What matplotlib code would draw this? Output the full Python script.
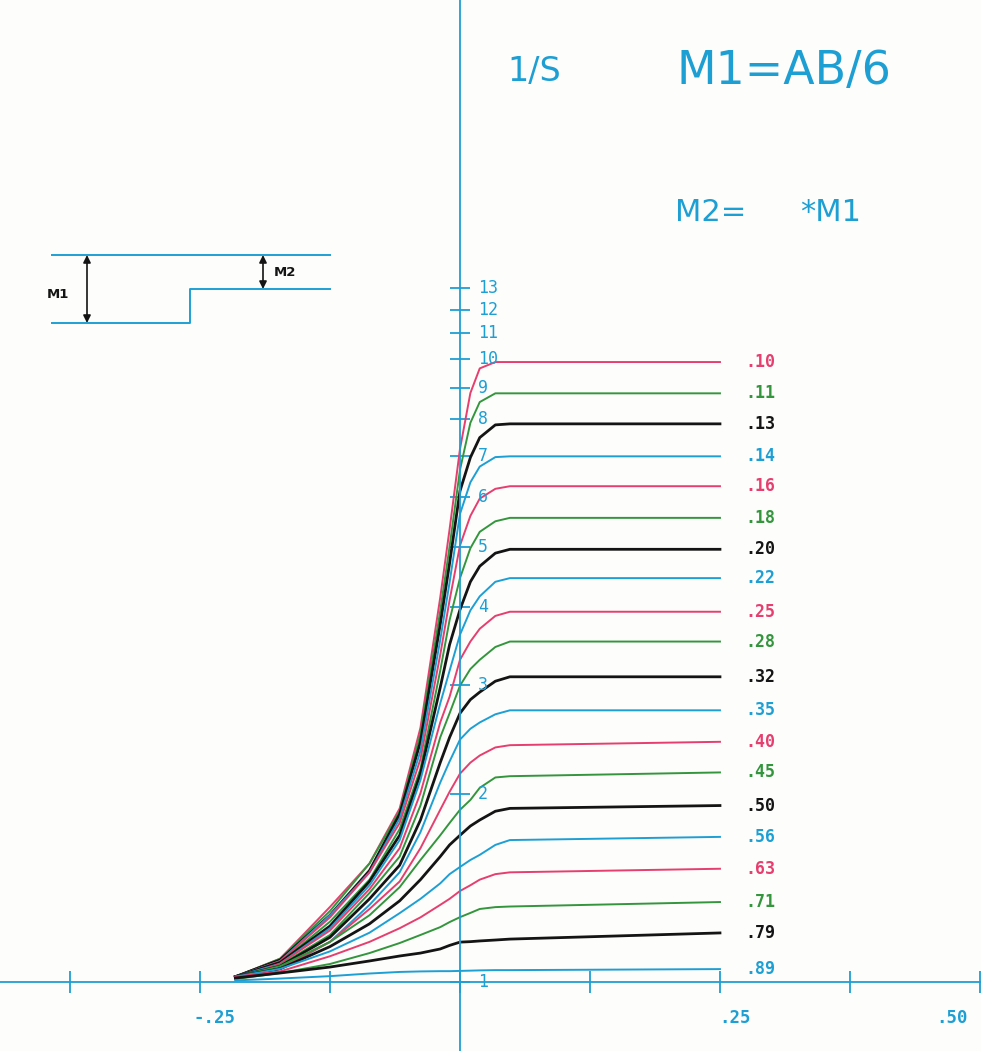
import matplotlib.pyplot as plt
from matplotlib.ticker import NullLocator, FixedLocator

# x positions where the curves were read (same for every curve)
x_grid = [-0.216, -0.173, -0.125, -0.087, -0.058, -0.038, -0.019, -0.010,
          0.0, 0.010, 0.019, 0.034, 0.048, 0.25]

# 1/S values, one list per M2/M1 ratio
s10 = [1.02, 1.09, 1.32, 1.55, 1.90, 2.56, 4.14, 5.33, 7.17, 8.82, 9.66, 9.89, 9.89, 9.89]
s11 = [1.02, 1.09, 1.30, 1.55, 1.88, 2.50, 3.94, 5.00, 6.64, 7.90, 8.53, 8.81, 8.81, 8.81]
s13 = [1.02, 1.085, 1.28, 1.51, 1.86, 2.43, 3.75, 4.70, 6.14, 6.95, 7.48, 7.84, 7.87, 7.87]
s14 = [1.02, 1.08, 1.28, 1.50, 1.83, 2.35, 3.54, 4.38, 5.64, 6.34, 6.72, 6.96, 6.98, 6.98]
s16 = [1.02, 1.08, 1.27, 1.50, 1.80, 2.28, 3.35, 4.10, 5.02, 5.60, 5.97, 6.19, 6.25, 6.25]
s18 = [1.02, 1.075, 1.25, 1.46, 1.76, 2.20, 3.16, 3.81, 4.45, 4.97, 5.28, 5.49, 5.56, 5.56]
s20 = [1.02, 1.075, 1.23, 1.45, 1.72, 2.16, 2.97, 3.48, 3.96, 4.39, 4.65, 4.88, 4.95, 4.95]
s22 = [1.02, 1.07, 1.22, 1.43, 1.69, 2.11, 2.80, 3.16, 3.61, 3.95, 4.16, 4.39, 4.45, 4.45]
s25 = [1.01, 1.07, 1.21, 1.41, 1.64, 2.01, 2.61, 2.87, 3.29, 3.52, 3.69, 3.87, 3.93, 3.93]
s28 = [1.01, 1.065, 1.19, 1.39, 1.59, 1.92, 2.47, 2.70, 2.99, 3.18, 3.29, 3.45, 3.52, 3.52]
s32 = [1.02, 1.06, 1.18, 1.36, 1.54, 1.82, 2.25, 2.47, 2.70, 2.84, 2.92, 3.04, 3.09, 3.09]
s35 = [1.02, 1.05, 1.16, 1.33, 1.50, 1.74, 2.09, 2.26, 2.45, 2.55, 2.61, 2.69, 2.73, 2.73]
s40 = [1.02, 1.05, 1.16, 1.31, 1.45, 1.64, 1.89, 2.02, 2.16, 2.25, 2.31, 2.38, 2.40, 2.43]
s45 = [1.02, 1.06, 1.16, 1.28, 1.42, 1.57, 1.72, 1.80, 1.89, 1.96, 2.05, 2.13, 2.14, 2.17]
s50 = [1.02, 1.05, 1.14, 1.24, 1.35, 1.46, 1.59, 1.66, 1.72, 1.78, 1.82, 1.88, 1.90, 1.92]
s56 = [1.02, 1.05, 1.12, 1.20, 1.29, 1.36, 1.44, 1.49, 1.53, 1.57, 1.60, 1.66, 1.69, 1.71]
s63 = [1.02, 1.04, 1.10, 1.16, 1.22, 1.27, 1.33, 1.36, 1.40, 1.43, 1.46, 1.49, 1.50, 1.52]
s71 = [1.011, 1.034, 1.069, 1.113, 1.155, 1.190, 1.225, 1.248, 1.271, 1.291, 1.310, 1.319, 1.322, 1.344]
s79 = [1.015, 1.034, 1.057, 1.081, 1.101, 1.113, 1.130, 1.145, 1.159, 1.161, 1.164, 1.168, 1.172, 1.199]
s89 = [1.006, 1.013, 1.022, 1.032, 1.038, 1.040, 1.041, 1.041, 1.042, 1.043, 1.044, 1.045, 1.045, 1.049]

series = [s10, s11, s13, s14, s16, s18, s20, s22, s25, s28,
          s32, s35, s40, s45, s50, s56, s63, s71, s79, s89]
ratio_labels = ['.10', '.11', '.13', '.14', '.16', '.18', '.20', '.22', '.25', '.28',
                '.32', '.35', '.40', '.45', '.50', '.56', '.63', '.71', '.79', '.89']

y_ticks = [1, 2, 3, 4, 5, 6, 7, 8, 9, 10, 11, 12, 13]
x_ticks = [-0.375, -0.25, -0.125, 0, 0.125, 0.25, 0.375, 0.5]
x_labels = {-0.25: '-.25', 0.25: '.25', 0.5: '.50'}

CYAN = '#1e9fd4'
PINK = '#e63e6f'
GREEN = '#33963d'
BLACK = '#141414'
pen_cycle = [PINK, GREEN, BLACK, CYAN]

fig = plt.figure(figsize=(9.81, 10.51), dpi=100)
fig.patch.set_facecolor('#fdfdfb')
ax = fig.add_axes([0, 0, 1, 1])
ax.set_facecolor('none')
ax.set_yscale('log')
ax.set_xlim(-0.4423, 0.5010)
ax.set_ylim(0.775, 37.7)

# axes drawn as crossing lines like the plotter did
for side in ['top', 'right']:
    ax.spines[side].set_visible(False)
ax.spines['bottom'].set_position(('data', 1))
ax.spines['left'].set_position(('data', 0))
for side in ['bottom', 'left']:
    ax.spines[side].set_color(CYAN)
    ax.spines[side].set_linewidth(1.3)
ax.xaxis.set_major_locator(FixedLocator(x_ticks))
ax.yaxis.set_major_locator(FixedLocator(y_ticks))
ax.yaxis.set_minor_locator(NullLocator())
ax.tick_params(axis='x', direction='inout', length=16, width=1.3, color=CYAN,
               labelbottom=False)
ax.tick_params(axis='y', direction='inout', length=14, width=1.3, color=CYAN,
               labelleft=False)

mono = 'DejaVu Sans Mono'
for v in y_ticks:
    ax.text(0.017, v, str(v), color=CYAN, fontsize=12, family=mono,
            ha='left', va='center')
for v, lab in x_labels.items():
    shift = -0.027 if v == 0.5 else 0.014
    ax.text(v + shift, 0.876, lab, color=CYAN, fontsize=12.5, family=mono,
            fontweight='bold', ha='center', va='center')

# the curves
for i, (vals, lab) in enumerate(zip(series, ratio_labels)):
    c = pen_cycle[i % 4]
    lw = 2.0 if c == BLACK else 1.4
    ax.plot(x_grid, vals, color=c, lw=lw, solid_joinstyle='round')
    ax.text(0.274, vals[-1], lab, color=c, fontsize=12, family=mono,
            fontweight='bold', ha='left', va='center')

# headings
ax.text(0.046, 28.9, '1/S', color=CYAN, fontsize=24, ha='left', va='center')
ax.text(0.208, 28.9, 'M1=AB/6', color=CYAN, fontsize=33, ha='left', va='center')
ax.text(0.207, 17.2, 'M2=', color=CYAN, fontsize=22, ha='left', va='center')
ax.text(0.327, 17.2, '*M1', color=CYAN, fontsize=22, ha='left', va='center')

# little step sketch in the upper left, drawn in pixel units
sk = fig.add_axes([0, 0, 1, 1])
sk.set_xlim(0, 981)
sk.set_ylim(1051, 0)
sk.axis('off')
sk.patch.set_alpha(0)
sk.plot([52, 330], [255, 255], color=CYAN, lw=1.4)
sk.plot([52, 190, 190, 330], [323, 323, 289, 289], color=CYAN, lw=1.4)
arrow = dict(arrowstyle='<|-|>', color=BLACK, lw=1.2, mutation_scale=11,
             shrinkA=0, shrinkB=0)
sk.annotate('', xy=(87, 255), xytext=(87, 323), arrowprops=arrow)
sk.annotate('', xy=(263, 255), xytext=(263, 289), arrowprops=arrow)
sk.text(58, 294, 'M1', color=BLACK, fontsize=9.5, fontweight='bold',
        ha='center', va='center')
sk.text(285, 273, 'M2', color=BLACK, fontsize=9.5, fontweight='bold',
        ha='center', va='center')

fig.savefig('out.png', dpi=100, facecolor=fig.get_facecolor())
